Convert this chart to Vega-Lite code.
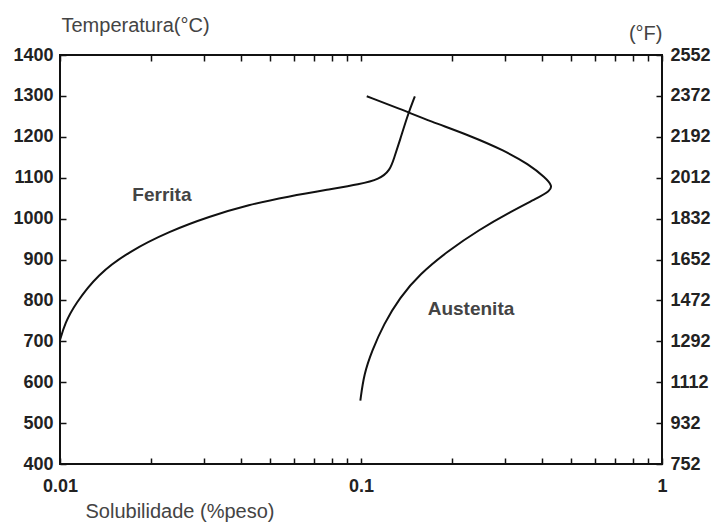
{
  "$schema": "https://vega.github.io/schema/vega-lite/v6.json",
  "width": 602,
  "height": 409,
  "autosize": "none",
  "padding": {"left": 60, "top": 55, "right": 51, "bottom": 61},
  "background": "white",
  "config": {
    "view": {"stroke": "#111", "strokeWidth": 2},
    "axis": {
      "domain": false,
      "grid": false,
      "ticks": true,
      "tickColor": "#111",
      "tickWidth": 1.5,
      "tickSize": 6,
      "offset": -6,
      "labelFont": "Liberation Sans",
      "labelFontWeight": "bold",
      "labelFontSize": 18,
      "labelColor": "#222",
      "labelFlush": false,
      "labelOverlap": false,
      "titleFont": "Liberation Sans",
      "titleFontWeight": "normal",
      "titleFontSize": 20,
      "titleColor": "#444"
    }
  },
  "layer": [
    {
      "data": {
        "values": [
          {"curve": "Ferrita", "seq": 1, "x": 0.0100, "t": 703},
          {"curve": "Ferrita", "seq": 2, "x": 0.0104, "t": 745},
          {"curve": "Ferrita", "seq": 3, "x": 0.0112, "t": 790},
          {"curve": "Ferrita", "seq": 4, "x": 0.01335, "t": 864},
          {"curve": "Ferrita", "seq": 5, "x": 0.0170, "t": 920},
          {"curve": "Ferrita", "seq": 6, "x": 0.0231, "t": 969},
          {"curve": "Ferrita", "seq": 7, "x": 0.0313, "t": 1005},
          {"curve": "Ferrita", "seq": 8, "x": 0.0424, "t": 1034},
          {"curve": "Ferrita", "seq": 9, "x": 0.0574, "t": 1054},
          {"curve": "Ferrita", "seq": 10, "x": 0.0778, "t": 1071},
          {"curve": "Ferrita", "seq": 11, "x": 0.0992, "t": 1084},
          {"curve": "Ferrita", "seq": 12, "x": 0.1150, "t": 1096},
          {"curve": "Ferrita", "seq": 13, "x": 0.1250, "t": 1118},
          {"curve": "Ferrita", "seq": 14, "x": 0.1290, "t": 1150},
          {"curve": "Ferrita", "seq": 15, "x": 0.1345, "t": 1190},
          {"curve": "Ferrita", "seq": 16, "x": 0.1429, "t": 1253},
          {"curve": "Ferrita", "seq": 17, "x": 0.1510, "t": 1299},
          {"curve": "Austenita", "seq": 1, "x": 0.0995, "t": 555},
          {"curve": "Austenita", "seq": 2, "x": 0.1023, "t": 620},
          {"curve": "Austenita", "seq": 3, "x": 0.1088, "t": 677},
          {"curve": "Austenita", "seq": 4, "x": 0.119, "t": 742},
          {"curve": "Austenita", "seq": 5, "x": 0.1345, "t": 807},
          {"curve": "Austenita", "seq": 6, "x": 0.1566, "t": 864},
          {"curve": "Austenita", "seq": 7, "x": 0.1937, "t": 920},
          {"curve": "Austenita", "seq": 8, "x": 0.247, "t": 973},
          {"curve": "Austenita", "seq": 9, "x": 0.3148, "t": 1017},
          {"curve": "Austenita", "seq": 10, "x": 0.385, "t": 1050},
          {"curve": "Austenita", "seq": 11, "x": 0.425, "t": 1068},
          {"curve": "Austenita", "seq": 12, "x": 0.432, "t": 1080},
          {"curve": "Austenita", "seq": 13, "x": 0.410, "t": 1100},
          {"curve": "Austenita", "seq": 14, "x": 0.360, "t": 1133},
          {"curve": "Austenita", "seq": 15, "x": 0.300, "t": 1166},
          {"curve": "Austenita", "seq": 16, "x": 0.230, "t": 1203},
          {"curve": "Austenita", "seq": 17, "x": 0.170, "t": 1238},
          {"curve": "Austenita", "seq": 18, "x": 0.135, "t": 1268},
          {"curve": "Austenita", "seq": 19, "x": 0.1045, "t": 1299}
        ]
      },
      "mark": {"type": "line", "color": "#111", "strokeWidth": 2, "interpolate": "basis"},
      "encoding": {
        "x": {
          "field": "x", "type": "quantitative",
          "scale": {"type": "log", "domain": [0.01, 1], "nice": false},
          "axis": {
            "orient": "bottom",
            "values": [0.01, 0.02, 0.03, 0.04, 0.05, 0.06, 0.07, 0.08, 0.09, 0.1, 0.2, 0.3, 0.4, 0.5, 0.6, 0.7, 0.8, 0.9, 1],
            "labelExpr": "datum.value == 0.01 ? '0.01' : datum.value == 0.1 ? '0.1' : datum.value == 1 ? '1' : ''",
            "labelPadding": 13,
            "title": "Solubilidade (%peso)",
            "titleAlign": "left",
            "titleAnchor": "start",
            "titleX": 25,
            "titleY": 59,
            "titleBaseline": "alphabetic"
          }
        },
        "y": {
          "field": "t", "type": "quantitative",
          "scale": {"domain": [400, 1400], "nice": false, "zero": false},
          "axis": {
            "orient": "left",
            "values": [400, 500, 600, 700, 800, 900, 1000, 1100, 1200, 1300, 1400],
            "format": "d",
            "labelPadding": 7,
            "title": "Temperatura(°C)",
            "titleAngle": 0,
            "titleAlign": "left",
            "titleX": -5,
            "titleY": -24,
            "titleBaseline": "alphabetic"
          }
        },
        "detail": {"field": "curve"},
        "order": {"field": "seq", "type": "quantitative"}
      }
    },
    {
      "data": {
        "values": [
          {"label": "Ferrita", "x": 0.0218, "t": 1058},
          {"label": "Austenita", "x": 0.232, "t": 779}
        ]
      },
      "mark": {"type": "text", "font": "Liberation Sans", "fontWeight": "bold", "fontSize": 19, "color": "#444", "align": "center", "baseline": "middle"},
      "encoding": {
        "x": {
          "field": "x", "type": "quantitative",
          "scale": {"type": "log", "domain": [0.01, 1], "nice": false},
          "axis": {
            "orient": "top",
            "values": [0.01, 0.02, 0.03, 0.04, 0.05, 0.06, 0.07, 0.08, 0.09, 0.1, 0.2, 0.3, 0.4, 0.5, 0.6, 0.7, 0.8, 0.9, 1],
            "labels": false,
            "title": null
          }
        },
        "y": {
          "field": "t", "type": "quantitative",
          "scale": {"domain": [400, 1400], "nice": false, "zero": false},
          "axis": {
            "orient": "right",
            "values": [400, 500, 600, 700, 800, 900, 1000, 1100, 1200, 1300, 1400],
            "labelExpr": "format(datum.value * 9 / 5 + 32, 'd')",
            "labelPadding": 8,
            "title": "(°F)",
            "titleAngle": 0,
            "titleAlign": "right",
            "titleX": 6,
            "titleY": -16,
            "titleBaseline": "alphabetic"
          }
        },
        "text": {"field": "label"}
      }
    }
  ],
  "resolve": {"axis": {"x": "independent", "y": "independent"}}
}
